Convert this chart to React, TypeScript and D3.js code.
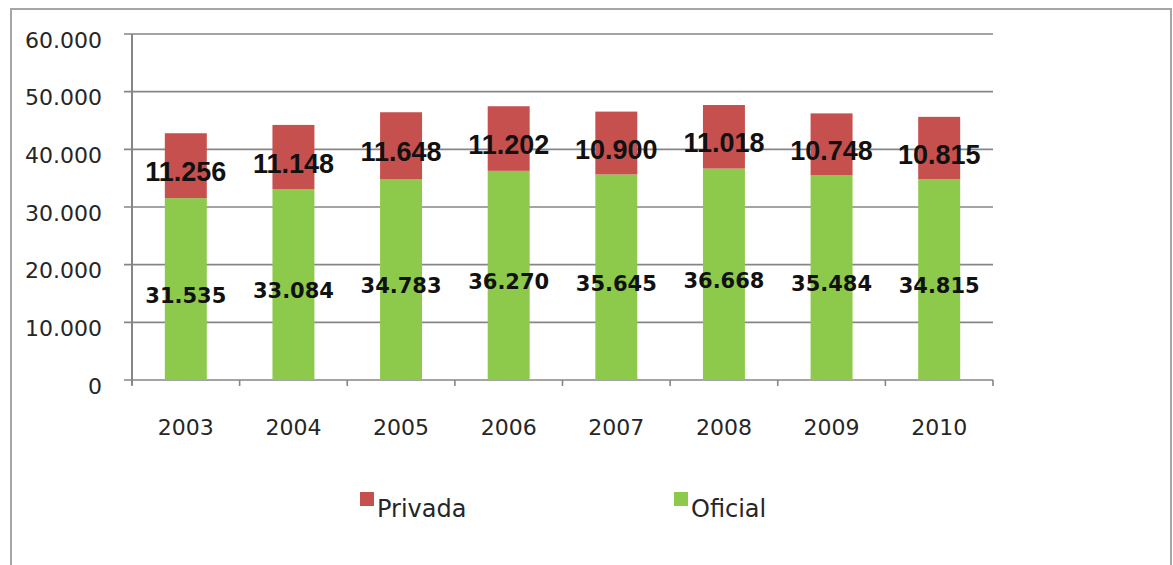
import React, { useEffect, useRef } from 'react';
import * as d3 from 'd3';

const years = ['2003', '2004', '2005', '2006', '2007', '2008', '2009', '2010'];
const oficial = [31535, 33084, 34783, 36270, 35645, 36668, 35484, 34815];
const privada = [11256, 11148, 11648, 11202, 10900, 11018, 10748, 10815];
const yTicks = [0, 10000, 20000, 30000, 40000, 50000, 60000];
const seriesNames = ['Privada', 'Oficial'];
const seriesColors = ['#C6504E', '#8DCA4B'];

const fmt = (v: number) => d3.format(',')(v).replace(/,/g, '.');

export default function App() {
  const ref = useRef<SVGSVGElement>(null);

  useEffect(() => {
    const svg = d3.select(ref.current);
    svg.selectAll('*').remove();

    const W = 1173, H = 565;
    const left = 132, right = 993, top = 34, bottom = 380;

    // outer frame
    svg.append('rect').attr('x', 11).attr('y', 9).attr('width', W - 13).attr('height', H + 20)
      .attr('fill', '#fff').attr('stroke', '#a6a6a6').attr('stroke-width', 2);

    const x = d3.scaleBand().domain(years).range([left, right])
      .paddingInner(0.61).paddingOuter(0.305);
    const y = d3.scaleLinear().domain([0, 60000]).range([bottom, top]);

    // gridlines + y labels
    const g = svg.append('g');
    yTicks.forEach(t => {
      g.append('line').attr('x1', left - 8).attr('x2', right)
        .attr('y1', y(t)).attr('y2', y(t))
        .attr('stroke', '#868686').attr('stroke-width', 1.6);
      g.append('text').attr('x', 102).attr('y', y(t) + 6)
        .attr('text-anchor', 'end').attr('dominant-baseline', 'central')
        .attr('font-family', 'DejaVu Sans').attr('font-size', 22).attr('fill', '#262626')
        .text(t === 0 ? '0' : fmt(t));
    });

    // axes lines
    g.append('line').attr('x1', left).attr('x2', left).attr('y1', top).attr('y2', bottom + 5)
      .attr('stroke', '#868686').attr('stroke-width', 2);
    const step = x.step();
    d3.range(years.length + 1).forEach(i => {
      const xx = left + i * step;
      g.append('line').attr('x1', xx).attr('x2', xx).attr('y1', bottom).attr('y2', bottom + 6)
        .attr('stroke', '#868686').attr('stroke-width', 1.6);
    });

    // bars
    years.forEach((yr, i) => {
      const bx = x(yr)!;
      const bw = x.bandwidth();
      const o = oficial[i], p = privada[i];
      g.append('rect').attr('x', bx).attr('width', bw)
        .attr('y', y(o)).attr('height', y(0) - y(o)).attr('fill', seriesColors[1]);
      g.append('rect').attr('x', bx).attr('width', bw)
        .attr('y', y(o + p)).attr('height', y(o) - y(o + p)).attr('fill', seriesColors[0]);

      g.append('text').attr('x', bx + bw / 2).attr('y', y(o / 2) + 6.5)
        .attr('text-anchor', 'middle').attr('dominant-baseline', 'central')
        .attr('font-family', 'DejaVu Sans').attr('font-weight', 'bold').attr('font-size', 21)
        .attr('fill', '#111').text(fmt(o));
      g.append('text').attr('x', bx + bw / 2).attr('y', y(o + p / 2) + 6.5)
        .attr('text-anchor', 'middle').attr('dominant-baseline', 'central')
        .attr('font-family', 'Liberation Sans').attr('font-weight', 'bold').attr('font-size', 27)
        .attr('fill', '#111').text(fmt(p));

      g.append('text').attr('x', bx + bw / 2).attr('y', 427)
        .attr('text-anchor', 'middle').attr('dominant-baseline', 'central')
        .attr('font-family', 'DejaVu Sans').attr('font-size', 22).attr('fill', '#262626')
        .text(yr);
    });

    // legend
    const legendX = [360, 674];
    seriesNames.forEach((name, i) => {
      g.append('rect').attr('x', legendX[i]).attr('y', 492).attr('width', 14).attr('height', 14)
        .attr('fill', seriesColors[i]);
      g.append('text').attr('x', legendX[i] + 17).attr('y', 517)
        .attr('font-family', 'DejaVu Sans').attr('font-size', 24).attr('fill', '#262626')
        .text(name);
    });
  }, []);

  return (
    <svg ref={ref} width={1173} height={565}
      style={{ position: 'absolute', left: 0, top: 0, background: '#fff' }} />
  );
}
